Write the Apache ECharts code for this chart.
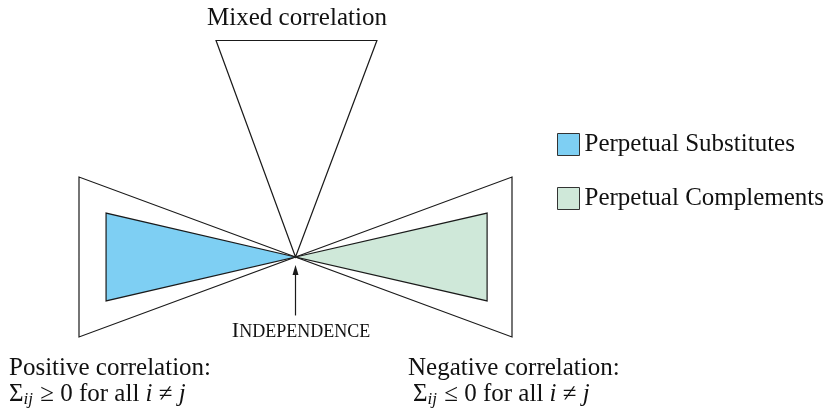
<!DOCTYPE html>
<html><head><meta charset="utf-8">
<script src="https://cdn.jsdelivr.net/npm/echarts@6/dist/echarts.min.js"></script>
<style>html,body{margin:0;padding:0;background:#fff}#c{width:828px;height:409px}</style>
</head><body><div id="c"></div>
<script>
// Diagram geometry in normalized units (independence point at origin)
const mixedCone = [[0, 0], [-0.367, 1], [0.376, 1]];
const positiveCone = [[0, 0], [-1, 0.3695], [-1, -0.3695]];
const negativeCone = [[0, 0], [1, 0.3695], [1, -0.3695]];
const substitutesCone = [[0, 0], [-0.875, 0.203], [-0.875, -0.203]];
const complementsCone = [[0, 0], [0.885, 0.203], [0.885, -0.203]];
const arrowPts = [[0, -0.27], [0, -0.037]];
const legendNames = ['Perpetual Substitutes', 'Perpetual Complements'];

const FONT = 'Liberation Serif';
const FS = 25;
const INK = '#1a1a1a';
const TXT = '#111';
const BLUE = '#7ecff3';
const GREEN = '#cfe8d9';

function polySeries(name, pts, fill) {
  return {
    type: 'custom', name: name, coordinateSystem: 'cartesian2d', data: pts,
    itemStyle: { color: fill || '#fff' }, silent: true,
    renderItem: function (params, api) {
      if (params.dataIndex !== 0) return;
      return { type: 'polygon', shape: { points: pts.map(p => api.coord(p)) },
        style: { fill: fill || 'none', stroke: INK, lineWidth: 1.2, lineJoin: 'miter' } };
    }
  };
}

const arrowSeries = {
  type: 'custom', coordinateSystem: 'cartesian2d', data: arrowPts, silent: true,
  renderItem: function (params, api) {
    if (params.dataIndex !== 0) return;
    const a = api.coord(arrowPts[0]), b = api.coord(arrowPts[1]);
    return { type: 'group', children: [
      { type: 'line', shape: { x1: a[0], y1: a[1], x2: b[0], y2: b[1] + 8 }, style: { stroke: INK, lineWidth: 1.2 } },
      { type: 'polygon', shape: { points: [[b[0], b[1]], [b[0] - 3, b[1] + 10], [b[0] + 3, b[1] + 10]] }, style: { fill: INK } }
    ] };
  }
};

function plain(text, x, y) {
  return { type: 'text', x: x, y: y, style: { text: text, fontFamily: FONT, fontSize: FS, fill: TXT, textAlign: x > 250 && x < 350 ? 'center' : 'left', textVerticalAlign: 'middle' } };
}
function mathLine(rel, x, y) {
  return { type: 'text', x: x, y: y, style: {
    text: '{n|Σ}{s|ij}{n| ' + rel + ' 0 for all }{i|i}{n| ≠ }{i|j}', textAlign: 'left', textVerticalAlign: 'middle',
    rich: {
      n: { fontFamily: FONT, fontSize: FS, fill: TXT },
      i: { fontFamily: FONT, fontSize: FS, fontStyle: 'italic', fill: TXT },
      s: { fontFamily: FONT, fontSize: 17, fontStyle: 'italic', fill: TXT, padding: [12, 1, 0, 0] }
    } } };
}

const chart = echarts.init(document.getElementById('c'));
chart.setOption({
  animation: false,
  backgroundColor: '#fff',
  grid: { left: 79, top: 40.5, width: 433, height: 296.5 },
  xAxis: { type: 'value', min: -1, max: 1, show: false },
  yAxis: { type: 'value', min: -0.3695, max: 1, show: false },
  legend: {
    orient: 'vertical', left: 552, top: 127, itemWidth: 22, itemHeight: 22, itemGap: 29,
    textStyle: { fontFamily: FONT, fontSize: FS, color: TXT },
    data: [
      { name: legendNames[0], icon: 'rect', itemStyle: { color: BLUE, borderColor: '#333', borderWidth: 1 } },
      { name: legendNames[1], icon: 'rect', itemStyle: { color: GREEN, borderColor: '#333', borderWidth: 1 } }
    ],
    selectedMode: false
  },
  series: [
    polySeries('mixed', mixedCone),
    polySeries('positive', positiveCone),
    polySeries('negative', negativeCone),
    polySeries(legendNames[0], substitutesCone, BLUE),
    polySeries(legendNames[1], complementsCone, GREEN),
    arrowSeries
  ],
  graphic: [
    plain('Mixed correlation', 297, 18),
    { type: 'text', x: 301, y: 331, style: { text: '{a|I}{b|NDEPENDENCE}', textAlign: 'center', textVerticalAlign: 'middle', fill: TXT,
        rich: { a: { fontFamily: FONT, fontSize: 22, fill: TXT }, b: { fontFamily: FONT, fontSize: 18, fill: TXT, verticalAlign: 'bottom', padding: [0, 0, 1, 0] } } } },
    plain('Positive correlation:', 9, 368),
    mathLine('≥', 9, 394),
    plain('Negative correlation:', 408, 368),
    mathLine('≤', 413, 394)
  ]
});
</script></body></html>
